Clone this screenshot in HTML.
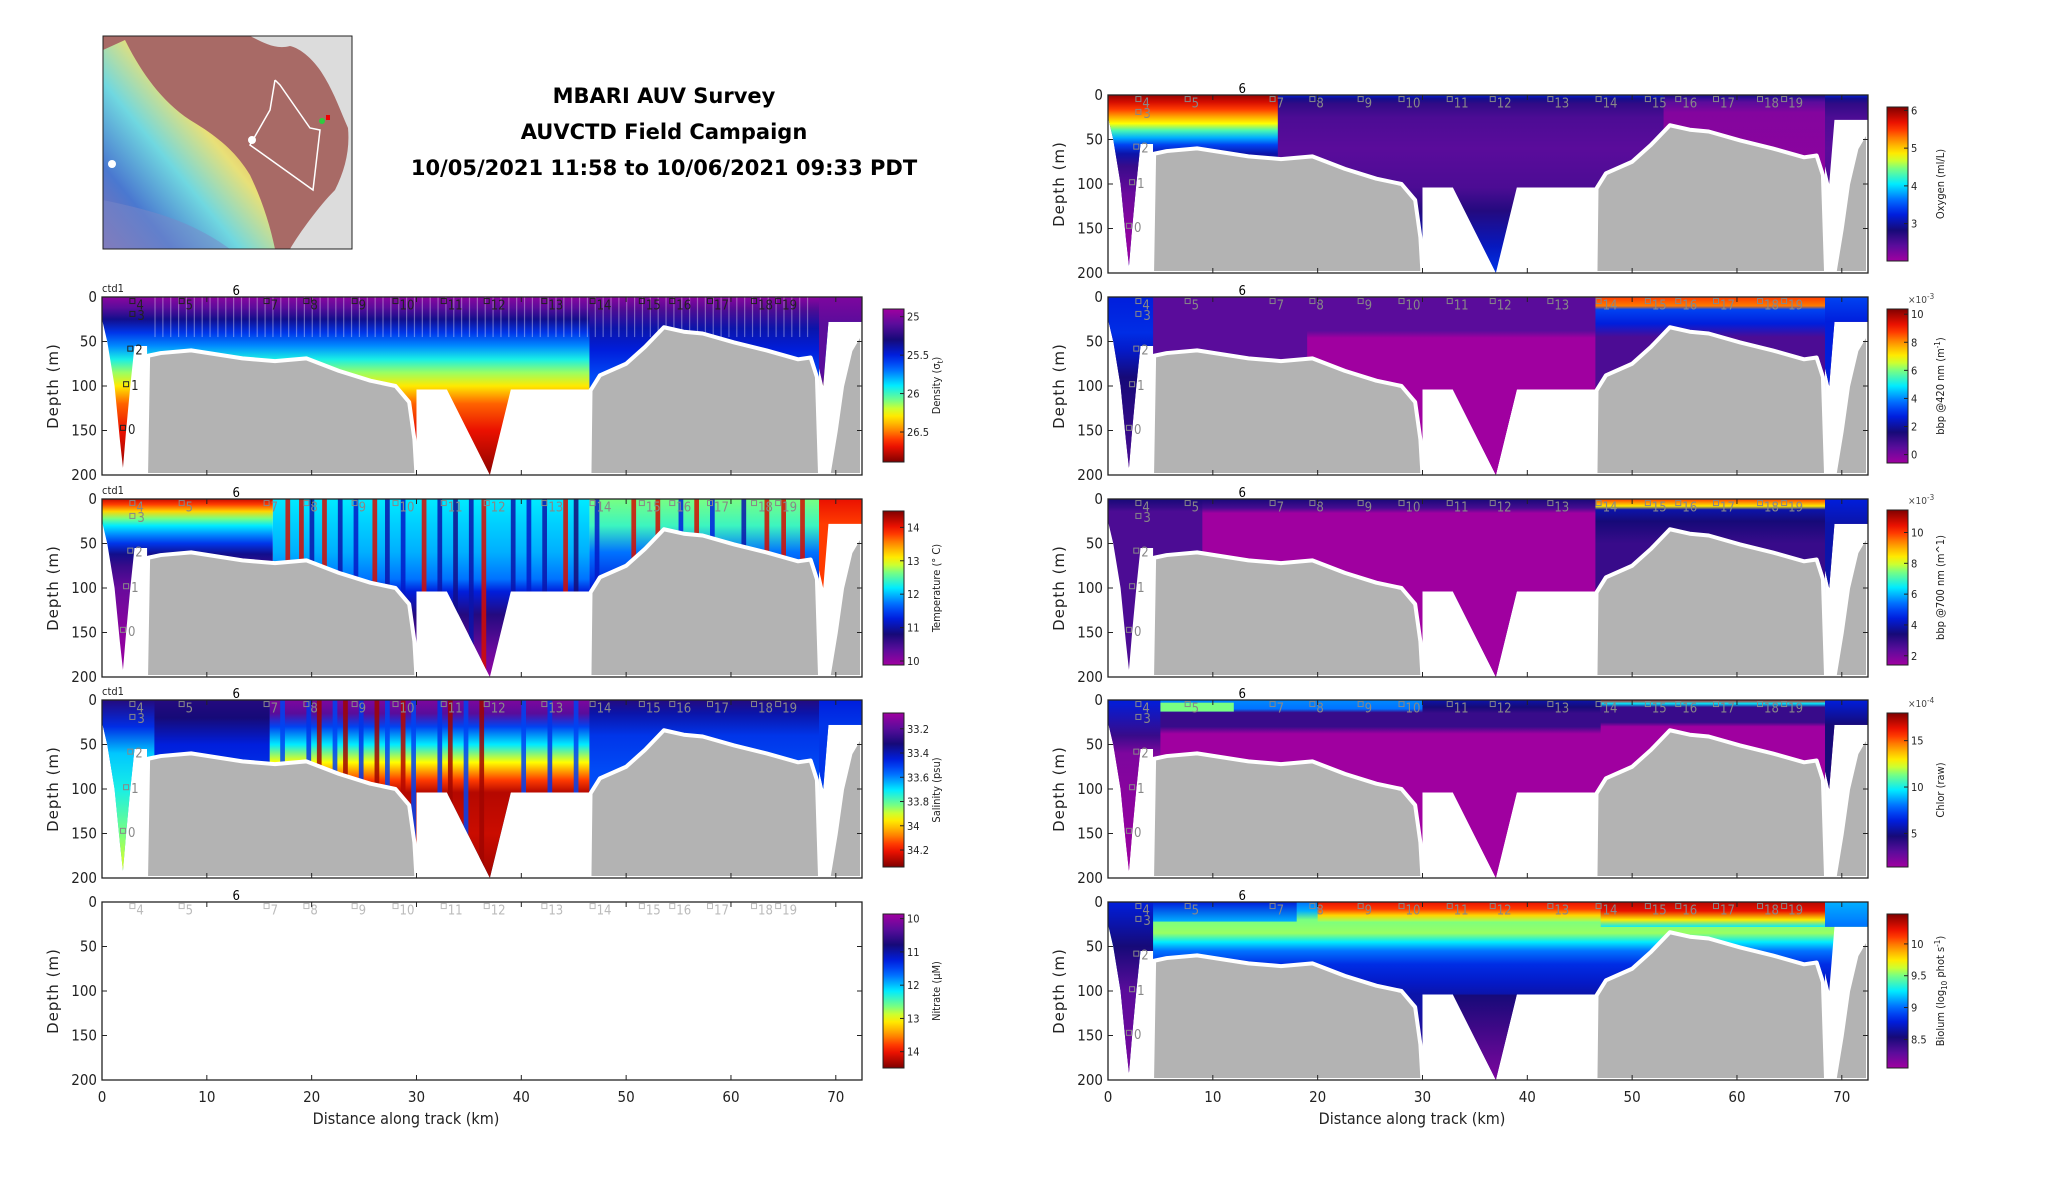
<!DOCTYPE html>
<html><head><meta charset="utf-8"><style>
html,body{margin:0;padding:0;background:#fff;}
svg{display:block;font-family:"DejaVu Sans Condensed","DejaVu Sans","Liberation Sans",sans-serif;}
</style></head><body>
<svg id="fig" width="2052" height="1188" viewBox="0 0 2052 1188" xmlns="http://www.w3.org/2000/svg">
<defs id="defs"></defs>
<g id="map">
  <defs>
    <linearGradient id="mapg" x1="1" y1="0" x2="0" y2="1">
      <stop offset="0" stop-color="#d0403a"/><stop offset="0.25" stop-color="#e8a050"/>
      <stop offset="0.42" stop-color="#e8e078"/><stop offset="0.6" stop-color="#70d8e0"/>
      <stop offset="0.8" stop-color="#4a78d0"/><stop offset="1" stop-color="#8a70b0"/>
    </linearGradient>
    <clipPath id="mapclip"><rect x="103" y="36" width="249" height="213"/></clipPath>
  </defs>
  <g clip-path="url(#mapclip)">
    <rect x="103" y="36" width="249" height="213" fill="#a86a66"/>
    <path d="M103,50 L125,40 C140,70 160,100 190,120 C215,135 235,150 250,175 C262,200 270,225 275,249 L103,249 Z" fill="url(#mapg)"/>
    <path d="M103,200 C150,210 190,220 230,249 L103,249 Z" fill="#7a88c8" opacity="0.5"/>
    <path d="M250,36 L352,36 L352,249 L290,249 C300,232 320,205 335,190 C345,170 350,150 348,128 C340,110 335,95 325,78 C315,60 300,48 290,46 C275,50 262,42 250,36 Z" fill="#dcdcdc"/>
    <polyline points="275,80 280,85 310,128 320,130 313,190 250,145 270,110 275,80" fill="none" stroke="#fff" stroke-width="1.5"/>
    <circle cx="322" cy="121" r="3" fill="#2ecc40"/><rect x="326" y="115" width="4" height="5" fill="#e00"/>
    <circle cx="252" cy="140" r="4" fill="#fff"/><circle cx="112" cy="164" r="4" fill="#fff"/>
  </g>
  <rect x="103" y="36" width="249" height="213" fill="none" stroke="#222" stroke-width="1"/>
</g>
<g id="title" font-family="DejaVu Sans, Liberation Sans, sans-serif" font-weight="bold" font-size="21" text-anchor="middle" fill="#000">
  <text x="664" y="103">MBARI AUV Survey</text>
  <text x="664" y="139">AUVCTD Field Campaign</text>
  <text x="664" y="175">10/05/2021 11:58 to 10/06/2021 09:33 PDT</text>
</g>
<g id="panels"></g>
</svg>
<script>
// ---------- data ----------
const xTicks = [0,10,20,30,40,50,60,70];
const yTicks = [0,50,100,150,200];
const xMax = 72.5, yMax = 200;
const envKm    = [0,0,0.5,1.2,1.7,2.0,2.3,2.7,3.1,4.3,4.3,30,30,32.9,37,39,46.5,46.5,68.4,68.4,68.8,69.3,72.5,72.5];
const envDepth = [0,25,50,100,160,192,150,100,55,55,200,200,104,104,200,104,104,200,200,80,100,28,28,0];
const terrMainKm = [4.2,4.4,5.6,8.5,13.4,16.5,19.5,22.6,25.6,28,29.3,29.8,30,30];
const terrMainD  = [200,66,63,60,69,72,69,83,94,100,118,160,200,200];
const terrRightKm = [46.5,46.6,47.5,50,51.8,53.6,55.5,57.3,60.3,63.4,66.4,67.6,68.2,68.5];
const terrRightD  = [200,105,88,75,56,34,39,41,51,60,70,68,90,200];
const terrFarKm = [69.3,70,70.6,71.4,72.5,72.5];
const terrFarD  = [200,150,100,60,38,200];
const terrSliverKm = [0,0,0.3];
const terrSliverD  = [200,165,200];
const stKm  = [2.9,7.6,12.8,15.7,19.5,24.1,28.0,32.6,36.7,42.2,46.8,51.5,54.4,58.0,62.2,64.5];
const stLab = ["4","5","6","7","8","9","10","11","12","13","14","15","16","17","18","19"];
const vKm   = [2.9,2.7,2.3,2.0];
const vD    = [19,58,98,147];
const vLab  = ["3","2","1","0"];

const cmStops=[[0,[160,0,160]],[0.1,[90,12,155]],[0.2,[22,10,120]],[0.3,[0,30,220]],[0.38,[0,90,255]],[0.5,[0,235,255]],[0.6,[120,255,130]],[0.68,[255,255,0]],[0.78,[255,150,0]],[0.88,[255,20,0]],[1,[128,0,0]]];
function cmap(t){t=Math.max(0,Math.min(1,t));for(let i=1;i<cmStops.length;i++){if(t<=cmStops[i][0]){const a=cmStops[i-1],b=cmStops[i];const f=(t-a[0])/(b[0]-a[0]);const c=a[1].map((v,k)=>Math.round(v+(b[1][k]-v)*f));return `rgb(${c[0]},${c[1]},${c[2]})`;}}return 'rgb(128,0,0)';}

const fields = {
 density: {bands:[
   [0,72.5,0,200,[[0,.03],[12,.1],[25,.22],[40,.33],[55,.42],[70,.52],[85,.62],[100,.7],[120,.82],[150,.9],[200,.99]]],
   [46.5,68.4,0,200,[[0,.03],[15,.12],[35,.25],[60,.3],[90,.36]]],
   [68.4,72.5,0,200,[[0,.05],[30,.1]]]],
   stripes:[]},
 temperature: {bands:[
   [0,16.3,0,200,[[0,.93],[6,.85],[14,.72],[22,.6],[30,.5],[40,.42],[50,.33],[62,.22],[75,.15],[100,.08],[150,.03],[200,.01]]],
   [16.3,46.5,0,200,[[0,.5],[60,.45],[90,.4],[104,.3],[130,.18],[170,.08],[200,.02]]],
   [46.5,68.4,0,200,[[0,.6],[30,.55],[60,.4],[100,.3]]],
   [68.4,72.5,0,200,[[0,.9],[28,.85]]]],
   stripes:[[17.5,.92],[18.8,.92],[21,.92],[25.8,.92],[30.5,.92],[36.2,.92],[44,.92],[50.5,.92],[52.8,.92],[56.5,.92],[63.2,.92],[64.8,.92],[66.6,.92],
            [19.8,.25],[22.5,.25],[24,.28],[27,.25],[28.5,.28],[32,.25],[33.5,.22],[35,.25],[39,.25],[40.5,.28],[42,.25],[45,.2],[47,.28],[55,.3],[58,.3],[61,.25]]},
 salinity: {bands:[
   [0,72.5,0,200,[[0,.22],[10,.3],[25,.33],[60,.4],[104,.45]]],
   [0,5,0,200,[[0,.18],[30,.32],[60,.47],[100,.52],[150,.6],[200,.68]]],
   [5,16,0,200,[[0,.18],[20,.2],[50,.3],[104,.35]]],
   [16,46.5,0,200,[[0,.05],[15,.1],[30,.35],[50,.5],[70,.68],[90,.85],[104,.95],[150,.93],[200,.97]]],
   [46.5,68.4,0,200,[[0,.18],[15,.25],[40,.33],[80,.36]]],
   [68.4,72.5,0,200,[[0,.3],[28,.33]]]],
   stripes:[[17,.35],[19.5,.33],[22,.35],[24.5,.33],[27,.35],[29.5,.35],[32,.33],[34.5,.35],[40,.35],[42.5,.33],[45,.35],[20.5,.97],[23,.97],[26,.97],[28.5,.95],[33,.97],[36,.97]]},
 nitrate: null,
 oxygen: {bands:[
   [0,72.5,0,200,[[0,.3],[4,.22],[10,.16],[25,.12],[60,.1],[104,.12],[130,.18],[170,.27],[200,.33]]],
   [0,16.2,0,200,[[0,.98],[8,.92],[16,.85],[24,.77],[32,.68],[40,.56],[48,.45],[56,.35],[66,.25],[80,.15],[110,.08],[150,.03],[200,0]]],
   [53,68.4,0,200,[[0,.22],[8,.1],[20,.04],[80,.03]]]],
   stripes:[]},
 bbp420: {bands:[
   [0,72.5,0,200,[[0,.1],[200,.1]]],
   [0,4.3,0,200,[[0,.3],[40,.32],[60,.28],[90,.2],[200,.12]]],
   [19,46.5,0,200,[[0,.1],[38,.1],[46,0],[200,0]]],
   [30,46.5,104,200,[[104,0],[200,0]]],
   [46.5,68.4,0,200,[[0,.85],[10,.8],[14,.35],[30,.3],[45,.12]]],
   [68.4,72.5,0,200,[[0,.35],[28,.3]]]],
   stripes:[]},
 bbp700: {bands:[
   [0,72.5,0,200,[[0,.2],[10,.15],[14,.12],[200,.12]]],
   [9,46.5,0,200,[[0,.2],[10,.13],[16,0],[200,0]]],
   [46.5,68.4,0,200,[[0,.85],[8,.7],[12,.25],[25,.2],[50,.15]]],
   [68.4,72.5,0,200,[[0,.3],[28,.25]]]],
   stripes:[]},
 chlor: {bands:[
   [0,72.5,0,200,[[0,.42],[10,.4],[14,.15],[30,.15],[38,0],[200,0]]],
   [30,47,0,200,[[0,.25],[8,.2],[15,.15],[30,.15],[38,0]]],
   [3,12,3,13,[[3,.6],[13,.6]]],
   [47,68.4,0,200,[[0,.9],[4,.5],[8,.15],[25,.15],[30,0]]],
   [0,5,0,200,[[0,.3],[40,.15],[60,.05],[200,0]]],
   [68.4,72.5,0,200,[[0,.3],[28,.2]]]],
   stripes:[]},
 biolum: {bands:[
   [0,72.5,0,200,[[0,.4],[10,.45],[20,.6],[35,.62],[45,.5],[55,.4],[70,.32],[90,.28],[104,.25],[200,.15]]],
   [0,18,0,22,[[0,.3],[22,.45]]],
   [20,47,0,22,[[0,.9],[8,.85],[15,.72],[22,.62]]],
   [47,68.4,0,28,[[0,.95],[10,.9],[20,.7],[28,.5]]],
   [0,4.3,0,200,[[0,.3],[50,.2],[100,.1],[200,.05]]],
   [32,40,104,200,[[104,.2],[200,.05]]],
   [68.4,72.5,0,28,[[0,.45],[28,.4]]]],
   stripes:[]}
};

const cbTicksDensity=[25,25.5,26,26.5], cbTicksTemp=[10,11,12,13,14], cbTicksSal=[33.2,33.4,33.6,33.8,34,34.2], cbTicksNit=[10,11,12,13,14];
const cbTicksOxy=[3,4,5,6], cbTicks420=[0,2,4,6,8,10], cbTicks700=[2,4,6,8,10], cbTicksChl=[5,10,15], cbTicksBio=[8.5,9,9.5,10];

const panels = [
 {id:'density',L:102,T:297,field:'density',cb:{top:309,bot:462,vT:24.9,vB:26.89,ticks:cbTicksDensity,rev:true,label:'Density (σ',sub:'t',after:')'},ctd:true,xlab:false,stColor:'#222'},
 {id:'temperature',L:102,T:499,field:'temperature',cb:{top:511,bot:665,vT:14.49,vB:9.88,ticks:cbTicksTemp,rev:false,label:'Temperature (° C)'},ctd:true,xlab:false,stColor:'#888'},
 {id:'salinity',L:102,T:700,field:'salinity',cb:{top:713,bot:867,vT:33.07,vB:34.34,ticks:cbTicksSal,rev:true,label:'Salinity (psu)'},ctd:true,xlab:false,stColor:'#888'},
 {id:'nitrate',L:102,T:902,field:'nitrate',cb:{top:914,bot:1068,vT:9.86,vB:14.49,ticks:cbTicksNit,rev:true,label:'Nitrate (μM)'},ctd:false,xlab:true,stColor:'#bbb'},
 {id:'oxygen',L:1108,T:95,field:'oxygen',cb:{top:107,bot:261,vT:6.09,vB:2.01,ticks:cbTicksOxy,rev:false,label:'Oxygen (ml/L)'},ctd:false,xlab:false,stColor:'#888'},
 {id:'bbp420',L:1108,T:297,field:'bbp420',cb:{top:309,bot:463,vT:10.37,vB:-0.6,ticks:cbTicks420,rev:false,label:'bbp @420 nm (m',sup:'-1',after:')',exp:'-3'},ctd:false,xlab:false,stColor:'#888'},
 {id:'bbp700',L:1108,T:499,field:'bbp700',cb:{top:510,bot:665,vT:11.46,vB:1.4,ticks:cbTicks700,rev:false,label:'bbp @700 nm (m^1)',exp:'-3'},ctd:false,xlab:false,stColor:'#888'},
 {id:'chlor',L:1108,T:700,field:'chlor',cb:{top:713,bot:867,vT:17.98,vB:1.38,ticks:cbTicksChl,rev:false,label:'Chlor (raw)',exp:'-4'},ctd:false,xlab:false,stColor:'#888'},
 {id:'biolum',L:1108,T:902,field:'biolum',cb:{top:914,bot:1068,vT:10.47,vB:8.05,ticks:cbTicksBio,rev:false,label:'Biolum (log',sub:'10',after:' phot s',sup:'-1',after2:')'},ctd:false,xlab:true,stColor:'#888'}
];

const NS='http://www.w3.org/2000/svg';
const W=760,H=178;
const defs=document.getElementById('defs');
const root=document.getElementById('panels');
function mk(tag,attrs,parent){const e=document.createElementNS(NS,tag);for(const k in attrs)e.setAttribute(k,attrs[k]);if(parent)parent.appendChild(e);return e;}
let gid=0;

panels.forEach(p=>{
  const X=km=>p.L+km*W/xMax, Y=d=>p.T+d*H/yMax;
  const g=mk('g',{},root);
  
  
  const cid='clip'+p.id;
  const cp=mk('clipPath',{id:cid},defs);
  mk('rect',{x:p.L,y:p.T,width:W,height:H},cp);
  const plot=mk('g',{'clip-path':`url(#${cid})`},g);
  const f=fields[p.field];
  if(f){
    const eid='env'+p.id;
    const ecp=mk('clipPath',{id:eid},defs);
    mk('polygon',{points:envKm.map((k,i)=>X(k)+','+Y(envDepth[i])).join(' ')},ecp);
    const field=mk('g',{'clip-path':`url(#${eid})`},plot);
    
    
    f.bands.forEach(b=>{
      const id='gr'+(gid++);
      const lg=mk('linearGradient',{id:id,gradientUnits:'userSpaceOnUse',x1:0,x2:0,y1:Y(0),y2:Y(200)},defs);
      b[4].forEach(s=>mk('stop',{offset:s[0]/200,'stop-color':cmap(s[1])},lg));
      const r=mk('rect',{x:X(b[0]),y:Y(b[2]),width:X(b[1])-X(b[0]),height:Y(b[3])-Y(b[2]),fill:`url(#${id})`},field);
      
      
    });
    f.stripes.forEach(s=>{
      const r=mk('rect',{x:X(s[0]),y:Y(0),width:W/xMax*0.45,height:Y(200)-Y(0),fill:cmap(s[1]),opacity:0.85},field);
      
      
    });
    if(p.id==='density'){
      for(let k=5;k<68;k+=0.75){mk('rect',{x:X(k),y:Y(0),width:1.2,height:Y(45)-Y(0),fill:'#fff',opacity:0.35},field);}
    }
  }
  const terr=(kms,ds,name)=>{
    const t=mk('polygon',{points:kms.map((k,i)=>X(k)+','+Y(ds[i])).join(' '),fill:'#b3b3b3',stroke:'#fff','stroke-width':4,'stroke-linejoin':'round'},plot);
    
    
  };
  if(f){
    terr(terrMainKm,terrMainD,'bathymetry-main');
    terr(terrRightKm,terrRightD,'bathymetry-right');
    terr(terrFarKm,terrFarD,'bathymetry-far-right');
    terr(terrSliverKm,terrSliverD,'bathymetry-left-sliver');
  }
  stKm.forEach((k,i)=>{
    if(stLab[i]==='6'){
      const t=mk('text',{x:X(k),y:p.T-2,'font-size':13,'text-anchor':'middle',fill:'#000'},g);t.textContent='6';
      
      
      return;
    }
    mk('rect',{x:X(k)-2.5,y:Y(4)-2,width:5,height:5,fill:'none',stroke:p.stColor,'stroke-width':1},plot);
    const t=mk('text',{x:X(k)+4,y:Y(4)+9,'font-size':13,fill:p.stColor},plot);t.textContent=stLab[i];
    
    
  });
  if(f) vKm.forEach((k,i)=>{
    mk('rect',{x:X(k)-2.5,y:Y(vD[i])-2.5,width:5,height:5,fill:'none',stroke:p.stColor,'stroke-width':1},plot);
    const t=mk('text',{x:X(k)+5,y:Y(vD[i])+6,'font-size':13,fill:p.stColor},plot);t.textContent=vLab[i];
    
    
  });
  const fr=mk('rect',{x:p.L,y:p.T,width:W,height:H,fill:'none',stroke:'#222','stroke-width':1.3},g);
  
  
  xTicks.forEach(v=>{
    mk('line',{x1:X(v),x2:X(v),y1:p.T+H,y2:p.T+H-5,stroke:'#222'},g);
    mk('line',{x1:X(v),x2:X(v),y1:p.T,y2:p.T+5,stroke:'#222'},g);
    if(p.xlab){const t=mk('text',{x:X(v),y:p.T+H+22,'font-size':15,'text-anchor':'middle',fill:'#222'},g);t.textContent=v;
      
      }
  });
  yTicks.forEach(v=>{
    mk('line',{x1:p.L,x2:p.L+5,y1:Y(v),y2:Y(v),stroke:'#222'},g);
    mk('line',{x1:p.L+W,x2:p.L+W-5,y1:Y(v),y2:Y(v),stroke:'#222'},g);
    const t=mk('text',{x:p.L-5,y:Y(v)+5,'font-size':15,'text-anchor':'end',fill:'#222'},g);t.textContent=v;
    
    
  });
  const yl=mk('text',{x:0,y:0,'font-size':15,'text-anchor':'middle','letter-spacing':'1',fill:'#222',transform:`translate(${p.L-44},${p.T+H/2}) rotate(-90)`,'font-family':'DejaVu Sans, sans-serif'},g);
  yl.textContent='Depth (m)';
  
  
  if(p.xlab){const t=mk('text',{x:p.L+W*0.4,y:p.T+H+44,'font-size':16,'text-anchor':'middle',fill:'#222'},g);t.textContent='Distance along track (km)';
    
    }
  if(p.ctd){const t=mk('text',{x:p.L,y:p.T-5,'font-size':11,fill:'#222'},g);t.textContent='ctd1';
    
    }
  const c=p.cb, cx=p.L+W+(p.L<500?21:19), cw=21;
  const cgid='cb'+p.id;
  const lg=mk('linearGradient',{id:cgid,x1:0,x2:0,y1:0,y2:1},defs);
  for(let i=0;i<=20;i++){const t=i/20;mk('stop',{offset:t,'stop-color':cmap(c.rev?t:1-t)},lg);}
  const cb=mk('rect',{x:cx,y:c.top,width:cw,height:c.bot-c.top,fill:`url(#${cgid})`,stroke:'#222','stroke-width':1},g);
  
  
  const cy=v=>c.top+(v-c.vT)/(c.vB-c.vT)*(c.bot-c.top);
  c.ticks.forEach(v=>{
    mk('line',{x1:cx+cw-4,x2:cx+cw,y1:cy(v),y2:cy(v),stroke:'#222'},g);
    const t=mk('text',{x:cx+cw+3,y:cy(v)+4,'font-size':11,fill:'#222'},g);t.textContent=v;
    
    
  });
  if(c.exp){const t=mk('text',{x:cx+cw,y:c.top-6,'font-size':10,fill:'#444'},g);t.textContent='×10';
    const s=mk('tspan',{dy:-4,'font-size':8},t);s.textContent=c.exp;
    
    }
  const lab=mk('text',{x:0,y:0,'font-size':11,'text-anchor':'middle',fill:'#222',transform:`translate(${cx+cw+36},${(c.top+c.bot)/2}) rotate(-90)`},g);
  lab.appendChild(document.createTextNode(c.label));
  if(c.sub){const s=mk('tspan',{dy:3,'font-size':8},lab);s.textContent=c.sub;const r=mk('tspan',{dy:-3},lab);r.textContent=c.after||'';}
  if(c.sup){const s=mk('tspan',{dy:-4,'font-size':8},lab);s.textContent=c.sup;const r=mk('tspan',{dy:4},lab);r.textContent=c.after2||(c.sub?'':c.after)||'';}
  
  
});
</script>
</body></html>
